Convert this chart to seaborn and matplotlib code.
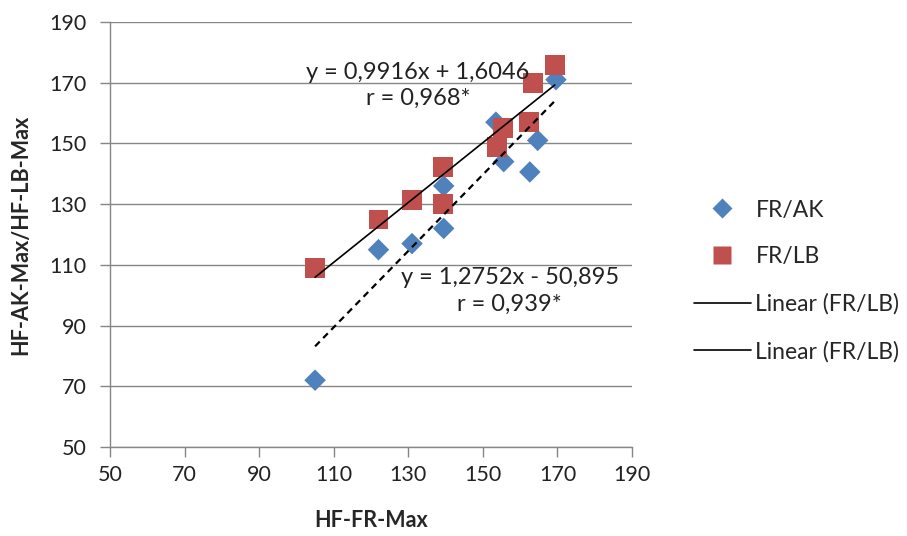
import numpy as np
import pandas as pd
import matplotlib
matplotlib.use("Agg")
import matplotlib.pyplot as plt
import seaborn as sns
from matplotlib.lines import Line2D

# Data
ak_x = [105, 122, 131, 139.5, 139.5, 153.5, 155.6, 162.6, 164.7, 169.6]
ak_y = [72, 115, 117, 122, 136, 157, 144, 140.6, 151, 171]
lb_x = [105, 122, 131, 139.3, 139.3, 153.8, 155.4, 162.3, 163.4, 169.3]
lb_y = [109, 125, 131.4, 142.2, 130, 148.8, 155, 157, 170, 175.8]

ticks = [50, 70, 90, 110, 130, 150, 170, 190]
eq_lb = "y = 0,9916x + 1,6046\nr = 0,968*"
eq_ak = "y = 1,2752x - 50,895\nr = 0,939*"
legend_labels = ["FR/AK", "FR/LB", "Linear (FR/LB)", "Linear (FR/LB)"]

blue = "#4F81BD"
red = "#C0504D"
grid_c = "#868686"

sns.set_theme(style="white")
plt.rcParams['font.family'] = ['Lato', 'DejaVu Sans']

fig = plt.figure(figsize=(9.07, 5.36), dpi=100)
ax = fig.add_axes([110/907, 1-447/536, (632-110)/907, (447-22)/536])

df_ak = pd.DataFrame({"x": ak_x, "y": ak_y})
df_lb = pd.DataFrame({"x": lb_x, "y": lb_y})

ax.set_axisbelow(True)
ax.yaxis.grid(True, color=grid_c, lw=1)
ax.xaxis.grid(False)

sns.scatterplot(data=df_ak, x="x", y="y", marker="D", s=120, color=blue,
                edgecolor="none", ax=ax, zorder=3)
sns.scatterplot(data=df_lb, x="x", y="y", marker="s", s=200, color=red,
                edgecolor="none", ax=ax, zorder=3)
sns.regplot(data=df_lb, x="x", y="y", scatter=False, ci=None, ax=ax,
            line_kws=dict(color="black", lw=1.2, zorder=4))
sns.regplot(data=df_ak, x="x", y="y", scatter=False, ci=None, ax=ax,
            line_kws=dict(color="black", lw=1.6, ls=(0, (3, 2.2)), zorder=4))

ax.set_xlim(50, 190)
ax.set_ylim(50, 190)
ax.set_xticks(ticks)
ax.set_yticks(ticks)
ax.tick_params(axis="both", labelsize=15.5, colors="#222222", length=7,
               width=1, direction="out")
ax.tick_params(axis="x", color=grid_c, bottom=True, pad=6)
ax.tick_params(axis="y", color=grid_c, left=True, pad=10)
for s in ["top", "right"]:
    ax.spines[s].set_visible(False)
for s in ["left", "bottom"]:
    ax.spines[s].set_color(grid_c)
    ax.spines[s].set_linewidth(1)

ax.set_xlabel("HF-FR-Max", fontsize=15.5, fontweight="bold", labelpad=18)
ax.set_ylabel("HF-AK-Max/HF-LB-Max", fontsize=15.5, fontweight="bold", labelpad=13)

ax.text(132.6, 169.2, eq_lb, ha="center", va="center", fontsize=17,
        linespacing=1.3, color="#222222", zorder=5)
ax.text(157.2, 101.4, eq_ak, ha="center", va="center", fontsize=17,
        linespacing=1.3, color="#222222", zorder=5)

handles = [
    Line2D([], [], ls="none", marker="D", color=blue, markersize=10, markeredgecolor="none"),
    Line2D([], [], ls="none", marker="s", color=red, markersize=13, markeredgecolor="none"),
    Line2D([], [], color="black", lw=1.2),
    Line2D([], [], color="black", lw=1.2),
]
fig.legend(handles, legend_labels, loc="center left",
           bbox_to_anchor=(0.742, 0.476), frameon=False, fontsize=16.5,
           handlelength=2.5, labelspacing=1.13, handletextpad=0.2)

fig.savefig("out.png", dpi=100)
